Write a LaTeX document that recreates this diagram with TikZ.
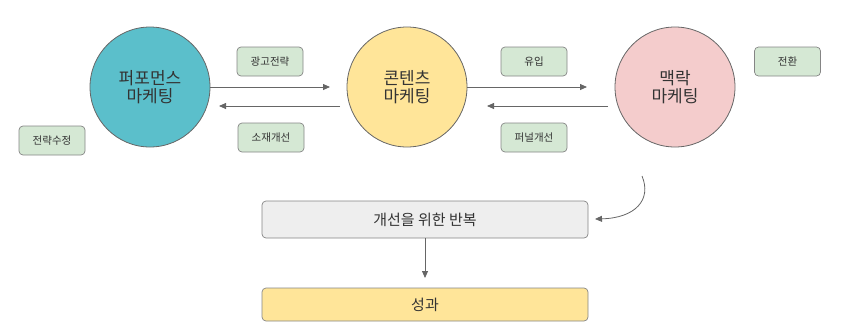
\documentclass[tikz,border=0pt]{standalone}
\usepackage{fontspec}
\setmainfont{Noto Sans CJK KR}
\usetikzlibrary{arrows.meta}
\definecolor{cA}{HTML}{5BBFCB}
\definecolor{cB}{HTML}{FFE599}
\definecolor{cC}{HTML}{F4CCCC}
\definecolor{lbl}{HTML}{D5E8D4}
\definecolor{gbox}{HTML}{EEEEEE}
\definecolor{strk}{HTML}{666666}
\definecolor{txt}{HTML}{333333}
\tikzset{
  circ/.style={circle, draw=strk, line width=0.8pt, minimum size=120pt, inner sep=0pt, align=center, font=\fontsize{17}{18}\selectfont, text=txt},
  lab/.style={rectangle, rounded corners=4pt, draw=strk!80, line width=0.7pt, fill=lbl, minimum width=66pt, minimum height=29pt, inner sep=0pt, font=\fontsize{10.5}{12}\selectfont, text=txt},
  wide/.style={rectangle, rounded corners=4pt, draw=strk!80, line width=0.7pt, minimum width=326pt, inner sep=0pt, font=\fontsize{15}{17}\selectfont, text=txt},
  con/.style={draw=strk, line width=0.8pt, -{Triangle[length=7pt,width=6pt]}}
}
\begin{document}
\begin{tikzpicture}[x=1pt,y=-1pt]
\useasboundingbox (0,0) rectangle (845,325);
\node[circ, fill=cA] (pm) at (150,87) {퍼포먼스\\마케팅};
\node[circ, fill=cB] (cm) at (407,87) {콘텐츠\\마케팅};
\node[circ, fill=cC] (xm) at (675,87) {맥락\\마케팅};
\node[lab] (l1) at (270,61.5) {광고전략};
\node[lab] (l2) at (271,137.5) {소재개선};
\node[lab] (l3) at (52,140.5) {전략수정};
\node[lab] (l4) at (534,61.5) {유입};
\node[lab] (l5) at (534,137.5) {퍼널개선};
\node[lab] (l6) at (787.5,61.5) {전환};
\node[wide, fill=gbox, minimum height=37pt] (rep) at (425,219.5) {개선을 위한 반복};
\node[wide, fill=cB, minimum height=33pt] (res) at (425,304.5) {성과};
\coordinate (a1e) at (330,87);
\coordinate (a2s) at (340,106);
\coordinate (a2e) at (219,106);
\coordinate (a3e) at (587,87);
\coordinate (a4s) at (608,106);
\coordinate (a4e) at (487,106);
\coordinate (ds) at (425,278);
\coordinate (cs) at (642,176);
\coordinate (ce) at (595,219);
\draw[con] (pm.east) -- (a1e);
\draw[con] (a2s) -- (a2e);
\draw[con] (cm.east) -- (a3e);
\draw[con] (a4s) -- (a4e);
\draw[con] (rep.south) -- (ds);
\draw[con] (cs) .. controls (652,200) and (635,218) .. (ce);
\end{tikzpicture}
\end{document}
